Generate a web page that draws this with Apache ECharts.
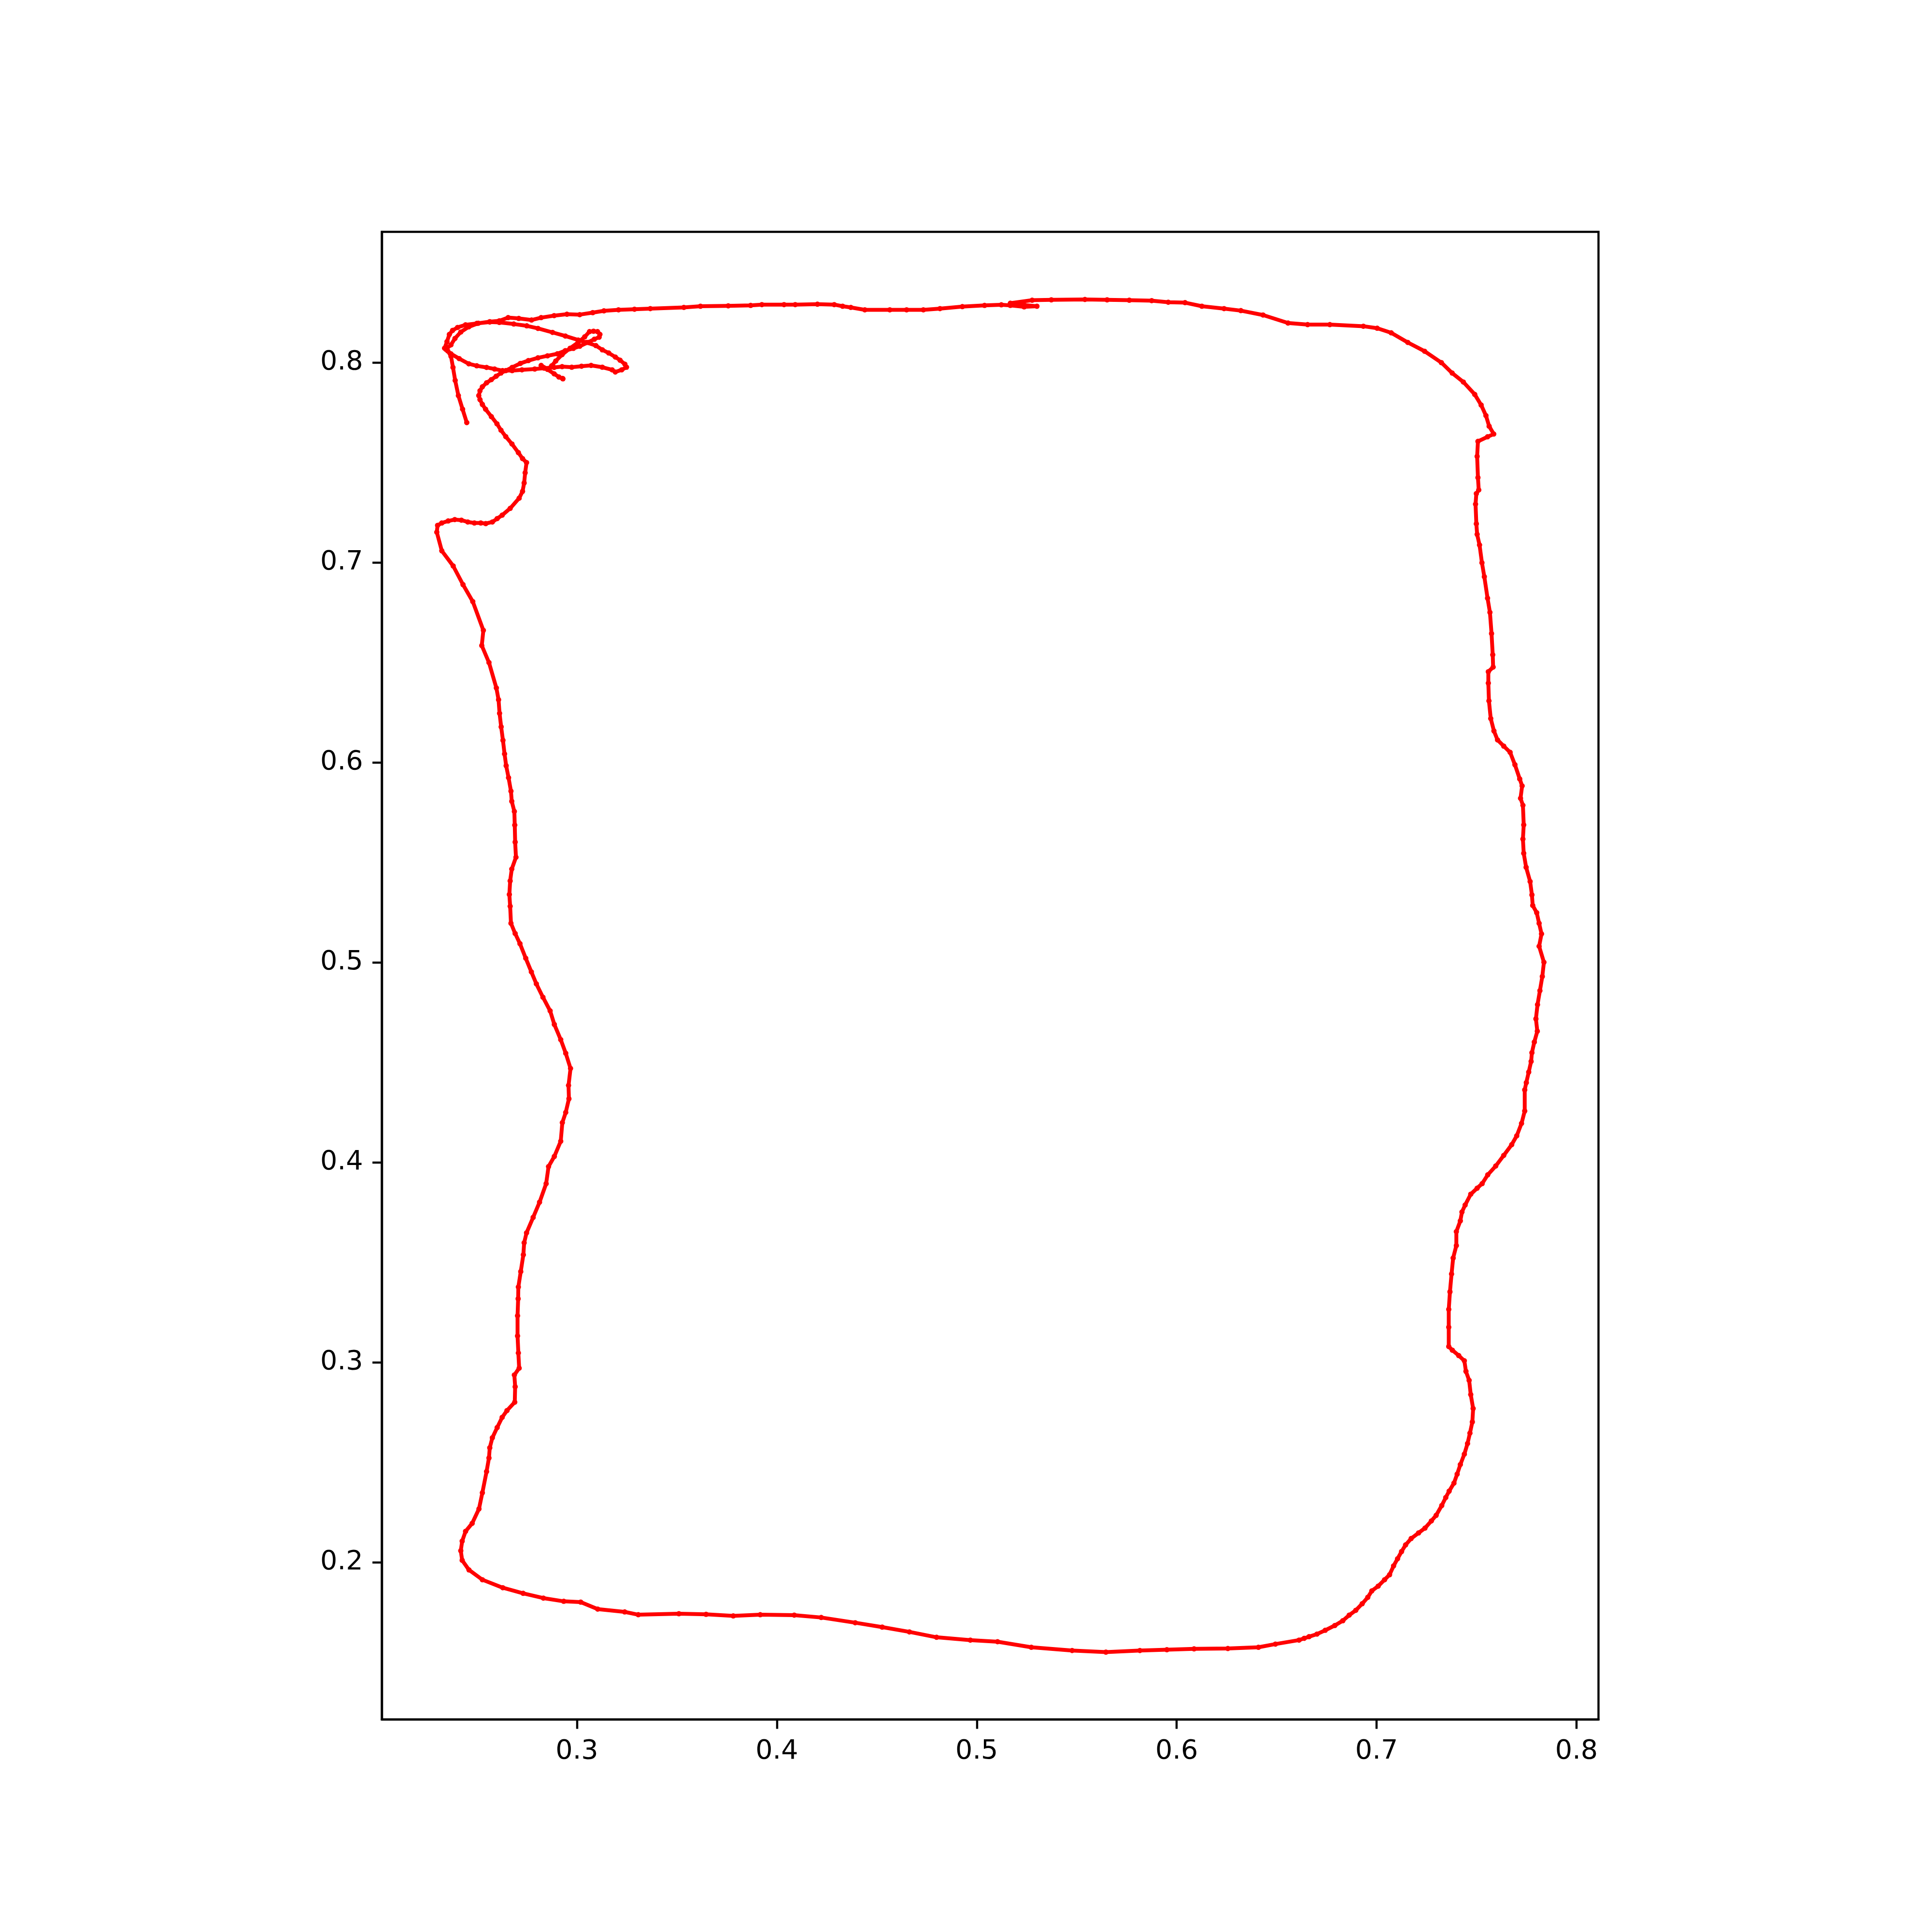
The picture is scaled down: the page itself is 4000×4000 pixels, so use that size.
<!DOCTYPE html>
<html>
<head>
<meta charset="utf-8">
<script src="https://cdn.jsdelivr.net/npm/echarts@6/dist/echarts.min.js"></script>
<style>
html,body{margin:0;padding:0;background:#fff;}
#chart{width:4000px;height:4000px;}
</style>
</head>
<body>
<div id="chart"></div>
<script>
// Tick labels
var xTicks = [0.3, 0.4, 0.5, 0.6, 0.7, 0.8];
var yTicks = [0.2, 0.3, 0.4, 0.5, 0.6, 0.7, 0.8];

// Trace, in drawing order, split into pieces
var tail = [[0.2449,0.7700],[0.2428,0.7767],[0.2407,0.7835],[0.2391,0.7911],[0.2380,0.7976],[0.2370,0.8032],[0.2354,0.8058]];

var innerLoop = [[0.2370,0.8044],[0.2411,0.8020],[0.2459,0.7994],[0.2499,0.7984],[0.2548,0.7976],[0.2588,0.7968],[0.2628,0.7960],[0.2676,0.7960],[0.2725,0.7964],[0.2789,0.7968],[0.2837,0.7972],[0.2886,0.7976],[0.2926,0.7980],[0.2974,0.7977],[0.3023,0.7982],[0.3071,0.7986],[0.3127,0.7977],[0.3176,0.7964],[0.3192,0.7953],[0.3224,0.7964],[0.3248,0.7977],
[0.3240,0.7992],[0.3216,0.8012],[0.3192,0.8028],[0.3159,0.8048],[0.3127,0.8064],[0.3095,0.8085],[0.3047,0.8101],[0.3006,0.8113],[0.2942,0.8133],[0.2878,0.8151],[0.2805,0.8171],[0.2749,0.8184],[0.2684,0.8193],[0.2612,0.8201],[0.2564,0.8203],[0.2507,0.8197],[0.2459,0.8179],[0.2419,0.8153],[0.2390,0.8121],[0.2370,0.8089],[0.2345,0.8066]];

var outer = [[0.2338,0.8072],[0.2350,0.8105],[0.2362,0.8141],[0.2378,0.8161],[0.2403,0.8176],[0.2443,0.8189],[0.2499,0.8196],[0.2564,0.8205],[0.2612,0.8209],[0.2656,0.8225],[0.2709,0.8221],[0.2773,0.8213],[0.2821,0.8225],[0.2886,0.8235],[0.2950,0.8242],[0.3014,0.8240],[0.3079,0.8250],[0.3135,0.8259],[0.3208,0.8264],[0.3288,0.8267],[0.3367,0.8270]];

var topSide = [[0.3535,0.8276],[0.3618,0.8282],[0.3757,0.8284],[0.3869,0.8286],[0.3925,0.8290],[0.4036,0.8290],[0.4092,0.8290],[0.4203,0.8292],[0.4287,0.8290],[0.4329,0.8282],[0.4370,0.8276],[0.4440,0.8264],[0.4565,0.8264],[0.4649,0.8264],[0.4733,0.8264],[0.4816,0.8270],[0.4928,0.8280],[0.5039,0.8286],[0.5123,0.8289],[0.5168,0.8286],
[0.5237,0.8279],[0.5301,0.8282],[0.5237,0.8288],[0.5168,0.8297],
[0.5277,0.8312],[0.5373,0.8314],[0.5541,0.8316],[0.5652,0.8314],[0.5763,0.8312],[0.5875,0.8310],[0.5958,0.8302],[0.6042,0.8300],[0.6126,0.8282],[0.6237,0.8270],[0.6321,0.8260],[0.6432,0.8238],[0.6557,0.8198],[0.6655,0.8190],[0.6766,0.8190],[0.6934,0.8182],[0.7003,0.8172],[0.7073,0.8149],[0.7156,0.8101],[0.7240,0.8057],[0.7324,0.8000]];

var rightSide = [[0.7378,0.7948],[0.7434,0.7903],[0.7491,0.7841],[0.7523,0.7788],[0.7547,0.7735],[0.7563,0.7682],[0.7586,0.7643],[0.7555,0.7629],[0.7507,0.7606],[0.7503,0.7531],[0.7507,0.7425],[0.7511,0.7363],[0.7499,0.7345],[0.7495,0.7292],[0.7499,0.7194],[0.7503,0.7141],[0.7515,0.7088],[0.7527,0.6999],[0.7539,0.6929],[0.7555,0.6822],[0.7567,0.6751],[0.7575,0.6645],[0.7581,0.6539],[0.7583,0.6477],[0.7559,0.6454],[0.7559,0.6397],[0.7562,0.6308],[0.7571,0.6220],[0.7587,0.6158],[0.7605,0.6113],[0.7636,0.6082],[0.7668,0.6051],[0.7692,0.5989],[0.7716,0.5918],[0.7728,0.5883],[0.7720,0.5821],[0.7732,0.5786],[0.7736,0.5688],[0.7732,0.5617],[0.7736,0.5546],[0.7748,0.5476],[0.7768,0.5405],
[0.7777,0.5338],[0.7781,0.5285],[0.7801,0.5249],[0.7813,0.5196],[0.7825,0.5143],[0.7813,0.5081],[0.7837,0.5001],[0.7829,0.4930],[0.7817,0.4859],[0.7805,0.4789],[0.7797,0.4718],[0.7804,0.4656],[0.7789,0.4602],[0.7777,0.4549],[0.7773,0.4505],[0.7761,0.4452],[0.7749,0.4399],[0.7741,0.4363],[0.7741,0.4257],[0.7725,0.4195],[0.7701,0.4133],[0.7676,0.4089],[0.7636,0.4035],[0.7596,0.3982],[0.7556,0.3938],[0.7528,0.3894],[0.7503,0.3871],[0.7471,0.3841],[0.7443,0.3787],[0.7427,0.3752],[0.7419,0.3708],[0.7399,0.3654],[0.7399,0.3584],[0.7383,0.3522],[0.7375,0.3442],[0.7367,0.3353],[0.7361,0.3265],[0.7361,0.3176],[0.7361,0.3079],[0.7379,0.3061],[0.7411,0.3034],[0.7439,0.3008],[0.7447,0.2955],[0.7463,0.2910],[0.7471,0.2839],[0.7483,0.2769],
[0.7479,0.2702],[0.7467,0.2646],[0.7455,0.2594],[0.7439,0.2541],[0.7419,0.2489],[0.7403,0.2441],[0.7387,0.2396],[0.7363,0.2356],[0.7346,0.2324],[0.7326,0.2284],[0.7298,0.2235],[0.7274,0.2207],[0.7242,0.2171],[0.7210,0.2147],[0.7173,0.2119],[0.7145,0.2087],[0.7125,0.2054],[0.7105,0.2018],[0.7085,0.1982],[0.7065,0.1938],[0.7040,0.1913],[0.7008,0.1881],[0.6976,0.1857],[0.6956,0.1825],[0.6928,0.1793],[0.6896,0.1760],[0.6863,0.1736],[0.6831,0.1708],[0.6791,0.1684],[0.6743,0.1660],[0.6702,0.1641],[0.6662,0.1628],[0.6638,0.1620]];

var bottomSide = [[0.6612,0.1611],[0.6494,0.1591],[0.6409,0.1575],[0.6256,0.1569],[0.6087,0.1567],[0.5951,0.1563],[0.5816,0.1559],[0.5646,0.1551],[0.5477,0.1559],[0.5273,0.1575],[0.5104,0.1603],[0.4968,0.1611],[0.4799,0.1625],[0.4663,0.1652],[0.4527,0.1676],[0.4392,0.1698],[0.4222,0.1724],[0.4087,0.1736],[0.3917,0.1738],[0.3782,0.1732],[0.3646,0.1740],[0.3510,0.1743],[0.3307,0.1738],[0.3239,0.1752],[0.3104,0.1766],[0.3019,0.1801],[0.2934,0.1805],[0.2832,0.1821],[0.2731,0.1845],[0.2629,0.1873],[0.2527,0.1913],[0.2460,0.1962],[0.2426,0.2010],[0.2419,0.2058],[0.2426,0.2106],[0.2443,0.2155],[0.2476,0.2195],[0.2510,0.2267],[0.2527,0.2348]];

var leftSide = [[0.2548,0.2454],[0.2560,0.2522],[0.2564,0.2573],[0.2577,0.2623],[0.2601,0.2674],[0.2626,0.2725],[0.2650,0.2759],[0.2689,0.2801],[0.2691,0.2878],[0.2687,0.2937],[0.2711,0.2971],[0.2707,0.3047],[0.2703,0.3132],[0.2703,0.3233],[0.2706,0.3318],[0.2707,0.3377],[0.2719,0.3454],[0.2732,0.3538],[0.2736,0.3598],[0.2748,0.3648],[0.2781,0.3725],[0.2813,0.3801],[0.2846,0.3894],[0.2858,0.3979],[0.2887,0.4030],[0.2919,0.4106],[0.2927,0.4199],[0.2944,0.4250],[0.2960,0.4318],[0.2958,0.4385],[0.2968,0.4470],[0.2944,0.4546],[0.2919,0.4614],[0.2887,0.4690],[0.2866,0.4758],[0.2830,0.4826],[0.2797,0.4893],[0.2772,0.4953],[0.2744,0.5021],
[0.2715,0.5094],[0.2691,0.5145],[0.2670,0.5196],[0.2666,0.5281],[0.2662,0.5340],[0.2666,0.5408],[0.2674,0.5467],[0.2695,0.5526],[0.2691,0.5602],[0.2689,0.5687],[0.2687,0.5755],[0.2674,0.5806],[0.2670,0.5857],[0.2658,0.5924],[0.2646,0.5984],[0.2638,0.6043],[0.2630,0.6111],[0.2621,0.6178],[0.2613,0.6246],[0.2608,0.6314],[0.2597,0.6373],[0.2560,0.6500],[0.2524,0.6585],[0.2532,0.6661],[0.2479,0.6805],[0.2430,0.6890],[0.2381,0.6983],[0.2324,0.7059],[0.2299,0.7152],[0.2303,0.7186],[0.2324,0.7198],[0.2356,0.7208],[0.2389,0.7215],[0.2422,0.7212],[0.2454,0.7203],[0.2487,0.7198],[0.2519,0.7198],[0.2544,0.7195],[0.2577,0.7203],[0.2601,0.7220],[0.2626,0.7237],[0.2666,0.7271],[0.2711,0.7322],[0.2728,0.7356],[0.2736,0.7398],[0.2741,0.7449],[0.2748,0.7500],[0.2728,0.7520],[0.2707,0.7550],[0.2675,0.7593]];

var diagonal = [[0.2644,0.7630],[0.2620,0.7662],[0.2600,0.7694],[0.2572,0.7730],[0.2543,0.7767],[0.2527,0.7791],[0.2515,0.7815],[0.2509,0.7835],[0.2515,0.7859],[0.2527,0.7879],[0.2548,0.7899],[0.2572,0.7915],[0.2596,0.7932],[0.2620,0.7948],[0.2644,0.7960],[0.2676,0.7976],[0.2717,0.7996],[0.2757,0.8010],[0.2805,0.8024],[0.2853,0.8034],[0.2902,0.8044],[0.2942,0.8060],[0.2982,0.8071],[0.3014,0.8082],[0.3055,0.8101],[0.3087,0.8117],[0.3111,0.8127],[0.3115,0.8141],[0.3103,0.8155],[0.3083,0.8157],[0.3063,0.8155],[0.3039,0.8129],[0.3006,0.8101],[0.2966,0.8072],[0.2926,0.8040],[0.2894,0.8008],[0.2874,0.7984],[0.2853,0.7968],[0.2821,0.7986],[0.2853,0.7966],[0.2886,0.7944],[0.2910,0.7928],[0.2930,0.7919],[0.2928,0.7921]];

var trace = [].concat(tail, innerLoop, outer, topSide, rightSide, bottomSide, leftSide, diagonal);

var chart = echarts.init(document.getElementById('chart'), null, {renderer: 'canvas'});
var axisCol = '#000000';
var lw = 4.44;
var fontCfg = {fontFamily: 'DejaVu Sans', fontSize: 55.6, color: '#000000'};

chart.setOption({
  animation: false,
  backgroundColor: '#ffffff',
  grid: {
    left: 790.5, right: 690.5, top: 480, bottom: 440,
    show: true, borderColor: axisCol, borderWidth: lw, backgroundColor: 'transparent',
    containLabel: false
  },
  xAxis: {
    type: 'value', min: 0.2024, max: 0.8110,
    splitLine: {show: false},
    axisLine: {show: true, onZero: false, lineStyle: {color: axisCol, width: lw}},
    axisTick: {show: true, inside: false, length: 19.4, lineStyle: {color: axisCol, width: lw}, customValues: xTicks},
    axisLabel: Object.assign({show: true, margin: 39, customValues: xTicks, formatter: function (v) { return (+v).toFixed(1); }}, fontCfg)
  },
  yAxis: {
    type: 'value', min: 0.1214, max: 0.8654,
    splitLine: {show: false},
    axisLine: {show: true, onZero: false, lineStyle: {color: axisCol, width: lw}},
    axisTick: {show: true, inside: false, length: 19.4, lineStyle: {color: axisCol, width: lw}, customValues: yTicks},
    axisLabel: Object.assign({show: true, margin: 39, customValues: yTicks, formatter: function (v) { return (+v).toFixed(1); }}, fontCfg)
  },
  series: [{
    type: 'line',
    data: trace,
    symbol: 'circle',
    symbolSize: 11,
    showSymbol: true,
    smooth: false,
    lineStyle: {color: '#ff0000', width: 8, cap: 'round', join: 'round'},
    itemStyle: {color: '#ff0000', borderWidth: 0},
    silent: true,
    clip: false
  }]
});
</script>
</body>
</html>
